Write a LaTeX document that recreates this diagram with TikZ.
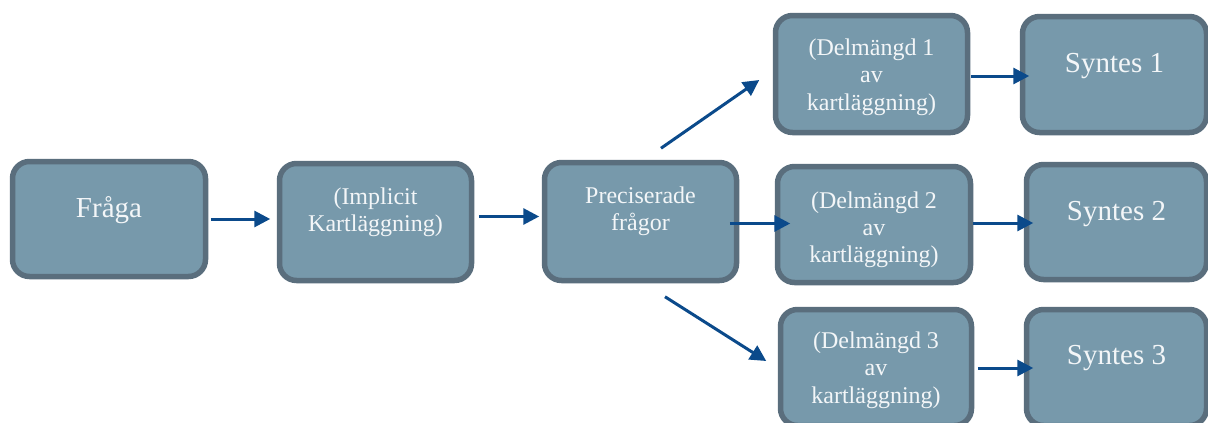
\documentclass[tikz,border=0pt]{standalone}
\usepackage{fontspec}
\setmainfont{Liberation Serif}
\usetikzlibrary{arrows.meta,calc}

\definecolor{boxfill}{HTML}{7799AB}
\definecolor{boxline}{HTML}{5A6E7D}
\definecolor{arrowblue}{HTML}{0B4A8B}
\definecolor{boxtext}{HTML}{F3F6F8}

\tikzset{
  box/.style={draw=boxline, fill=boxfill, line width=5.5pt, rounded corners=17pt,
    inner sep=0pt, minimum width=#1},
  box/.default=192pt,
  small/.style={text=boxtext, inner sep=0pt, anchor=north, align=center,
    font=\fontsize{24}{27.2}\selectfont},
  big/.style={text=boxtext, inner sep=0pt, anchor=base,
    font=\fontsize{29}{34}\selectfont},
  flow/.style={draw=arrowblue, line width=3pt,
    -{Triangle[length=16pt,width=16pt]}},
}

\begin{document}
\begin{tikzpicture}[x=1pt, y=-1pt]
\useasboundingbox (0,0) rectangle (1208,423);
\fill[white] (0,0) rectangle (1208,423);
\clip (0,0) rectangle (1208,423);

% boxes
\node[box=193pt, minimum height=115pt] (F)  at (109,219)    {};
\node[box=192pt, minimum height=117pt] (I)  at (375.5,222)  {};
\node[box=192pt, minimum height=118pt] (P)  at (640.5,221.5) {};
\node[box=192pt, minimum height=117pt] (D1) at (871.5,74)   {};
\node[box=193pt, minimum height=116pt] (D2) at (874,224.5)  {};
\node[box=191pt, minimum height=116pt] (D3) at (876,367.5)  {};
\node[box=184pt, minimum height=116pt] (S1) at (1114.5,74.5) {};
\node[box=180pt, minimum height=115pt] (S2) at (1116.5,222) {};
\node[box=180pt, minimum height=116pt] (S3) at (1116.5,367.5) {};

% labels
\node[big]   (Ft)  at ($(F.north)+(0,59)$)  {Fråga};
\node[small] (It)  at ($(I.north)+(0,26.5)$)  {(Implicit\\Kartläggning)};
\node[small] (Pt)  at ($(P.north)+(0,26.8)$)  {Preciserade\\frågor};
\node[small] (D1t) at ($(D1.north)+(0,26)$) {(Delmängd 1\\av\\kartläggning)};
\node[small] (D2t) at ($(D2.north)+(0,27.8)$) {(Delmängd 2\\av\\kartläggning)};
\node[small] (D3t) at ($(D3.north)+(0,25)$) {(Delmängd 3\\av\\kartläggning)};
\node[big]   (S1t) at ($(S1.north)+(0,58.5)$) {Syntes 1};
\node[big]   (S2t) at ($(S2.north)+(0,58.5)$) {Syntes 2};
\node[big]   (S3t) at ($(S3.north)+(0,57.5)$) {Syntes 3};

% connectors
\draw[flow] ($(F.east)+(2.5,0)$)    -- ($(I.west)+(-6.5,-3)$);
\draw[flow] ($(I.east)+(4.5,-5.5)$) -- ($(P.west)+(-2.5,-5)$);
\draw[flow] ($(P.north)+(20.5,-11.5)$) -- ($(D1.west)+(-13.5,6)$);
\draw[flow] ($(P.east)+(-9.5,2)$)   -- ($(D2.west)+(15.5,-1)$);
\draw[flow] ($(P.south)+(24.5,13.5)$) -- ($(D3.west)+(-11.5,-6.5)$);
\draw[flow] ($(D1.east)+(0.5,2)$)   -- ($(S1.west)+(9.5,1.5)$);
\draw[flow] ($(D2.east)+(-0.5,-1.5)$) -- ($(S2.west)+(9.5,1)$);
\draw[flow] ($(D3.east)+(3.5,0.5)$) -- ($(S3.west)+(9.5,0.5)$);
\end{tikzpicture}
\end{document}
